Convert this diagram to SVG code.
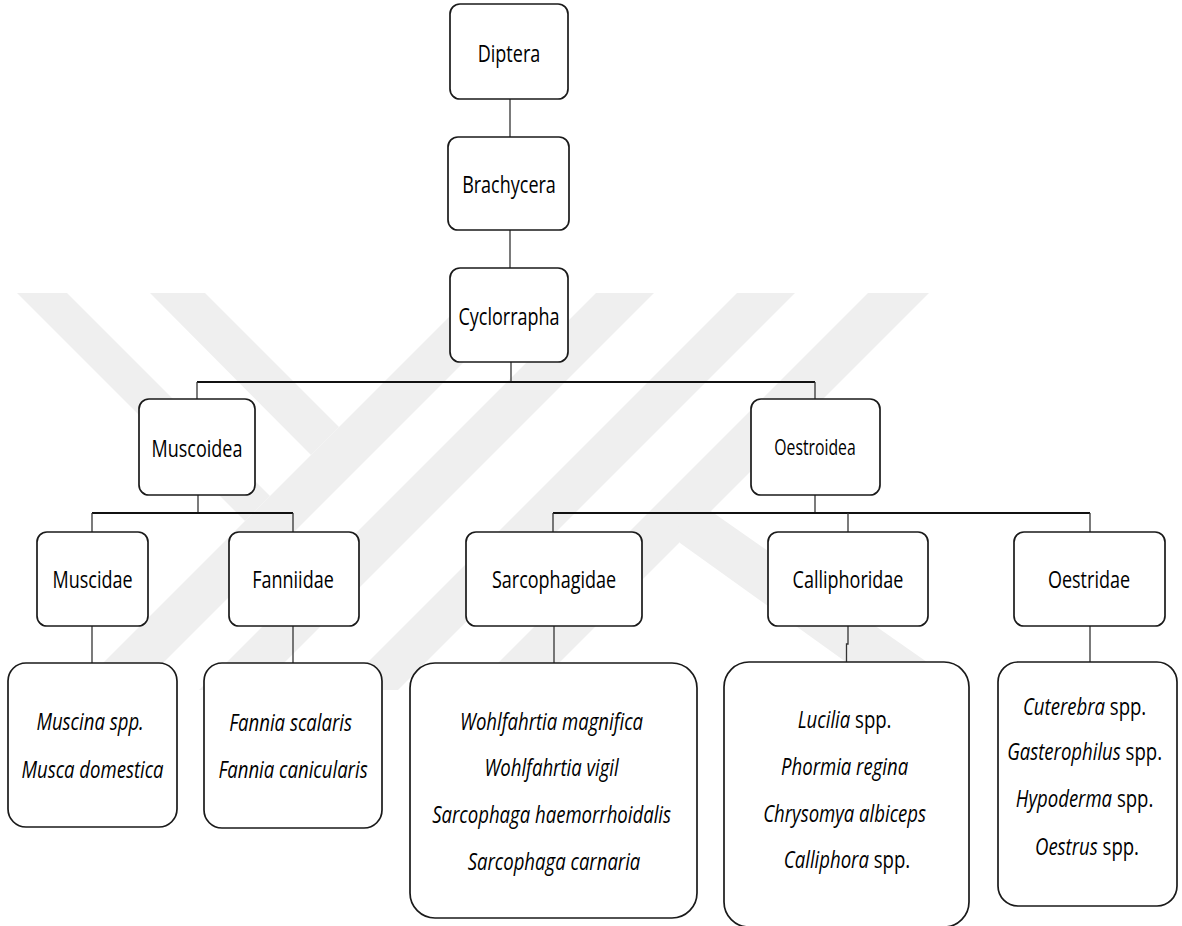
<svg xmlns="http://www.w3.org/2000/svg" width="1182" height="926" viewBox="0 0 1182 926">
  <style>
    .wm { fill: #efefef; stroke: none; }
    .box { fill: #ffffff; stroke: #1a1a1a; stroke-width: 1.7; }
    .v { fill: none; stroke: #333333; stroke-width: 1.3; }
    .h { fill: none; stroke: #111111; stroke-width: 2; }
    .lbl { font-family: "Open Sans", "Liberation Sans", Arial, sans-serif; font-size: 24px; fill: #000000; text-anchor: middle; }
    .sp { font-family: "Open Sans", "Liberation Sans", Arial, sans-serif; font-size: 23.5px; fill: #000000; text-anchor: middle; }
    .it { font-style: italic; }
  </style>
  <rect x="0" y="0" width="1182" height="926" fill="#ffffff"/>

  <g id="watermark">
    <polygon class="wm" points="17,293 67,293 270,496 245,521"/>
    <polygon class="wm" points="150,293 205,293 339,427 311,455"/>
    <polygon class="wm" points="473,293 533,293 136,690 76,690"/>
    <polygon class="wm" points="596,293 654,293 257,690 199,690"/>
    <polygon class="wm" points="737,293 795,293 398,690 340,690"/>
    <polygon class="wm" points="868,293 929,293 532,690 471,690"/>
    <polygon class="wm" points="675,486 967,690 885,690 680,543"/>
  </g>

  <g id="connectors">
    <path class="v" d="M510,99 V137"/>
    <path class="v" d="M510,230 V268"/>
    <path class="v" d="M511,362 V382"/>
    <path class="h" d="M197,382 H815"/>
    <path class="v" d="M197,382 V399"/>
    <path class="v" d="M815,382 V399"/>
    <path class="v" d="M198,495 V513"/>
    <path class="h" d="M92,513 H293"/>
    <path class="v" d="M92,513 V532"/>
    <path class="v" d="M293,513 V532"/>
    <path class="v" d="M815,495 V513"/>
    <path class="h" d="M553,513 H1090"/>
    <path class="v" d="M553,513 V532"/>
    <path class="v" d="M848,513 V532"/>
    <path class="v" d="M1090,513 V532"/>
    <path class="v" d="M92,626 V663"/>
    <path class="v" d="M293,626 V663"/>
    <path class="v" d="M554,626 V663"/>
    <path class="v" d="M848,626 V644 H846.5 V662"/>
    <path class="v" d="M1090,626 V662"/>
  </g>

  <g id="n-diptera">
    <rect class="box" x="450" y="4" width="118" height="95" rx="10"/>
    <text class="lbl" transform="translate(509 62) scale(0.75 1)">Diptera</text>
  </g>
  <g id="n-brachycera">
    <rect class="box" x="448" y="137" width="121" height="93" rx="10"/>
    <text class="lbl" transform="translate(509 193) scale(0.75 1)">Brachycera</text>
  </g>
  <g id="n-cyclorrapha">
    <rect class="box" x="450" y="268" width="118" height="94" rx="10"/>
    <text class="lbl" transform="translate(509 325) scale(0.75 1)">Cyclorrapha</text>
  </g>
  <g id="n-muscoidea">
    <rect class="box" x="139" y="399" width="116" height="96" rx="10"/>
    <text class="lbl" transform="translate(197 457) scale(0.75 1)">Muscoidea</text>
  </g>
  <g id="n-oestroidea">
    <rect class="box" x="751" y="399" width="129" height="96" rx="10"/>
    <text class="lbl" style="font-size:21px" transform="translate(815 455) scale(0.75 1)">Oestroidea</text>
  </g>
  <g id="n-muscidae">
    <rect class="box" x="37" y="532" width="111" height="94" rx="10"/>
    <text class="lbl" transform="translate(92.5 588) scale(0.75 1)">Muscidae</text>
  </g>
  <g id="n-fanniidae">
    <rect class="box" x="229" y="532" width="130" height="94" rx="10"/>
    <text class="lbl" transform="translate(293 588) scale(0.75 1)">Fanniidae</text>
  </g>
  <g id="n-sarcophagidae">
    <rect class="box" x="466" y="532" width="176" height="94" rx="10"/>
    <text class="lbl" transform="translate(554 588) scale(0.75 1)">Sarcophagidae</text>
  </g>
  <g id="n-calliphoridae">
    <rect class="box" x="768" y="532" width="160" height="94" rx="10"/>
    <text class="lbl" transform="translate(848 588) scale(0.75 1)">Calliphoridae</text>
  </g>
  <g id="n-oestridae">
    <rect class="box" x="1014" y="532" width="151" height="94" rx="10"/>
    <text class="lbl" transform="translate(1089 588) scale(0.75 1)">Oestridae</text>
  </g>

  <g id="s-muscidae">
    <rect class="box" x="8" y="663" width="169" height="164" rx="18"/>
    <text class="sp it" transform="translate(92.5 0) scale(0.79 1)">
      <tspan x="0" y="730">Muscina spp.</tspan>
      <tspan x="0" y="778">Musca domestica</tspan>
    </text>
  </g>
  <g id="s-fanniidae">
    <rect class="box" x="204" y="663" width="178" height="165" rx="18"/>
    <text class="sp it" transform="translate(293 0) scale(0.79 1)">
      <tspan x="0" y="731">Fannia scalaris</tspan>
      <tspan x="0" y="778">Fannia canicularis</tspan>
    </text>
  </g>
  <g id="s-sarcophagidae">
    <rect class="box" x="410" y="663" width="287" height="255" rx="25"/>
    <text class="sp it" transform="translate(554 0) scale(0.79 1)">
      <tspan x="0" y="730">Wohlfahrtia magnifica</tspan>
      <tspan x="0" y="776">Wohlfahrtia vigil</tspan>
      <tspan x="0" y="823">Sarcophaga haemorrhoidalis</tspan>
      <tspan x="0" y="870">Sarcophaga carnaria</tspan>
    </text>
  </g>
  <g id="s-calliphoridae">
    <rect class="box" x="724" y="662" width="245" height="265" rx="25"/>
    <text class="sp" transform="translate(847 0) scale(0.79 1)">
      <tspan x="0" y="728"><tspan class="it">Lucilia</tspan> spp.</tspan>
      <tspan x="0" y="775" class="it">Phormia regina</tspan>
      <tspan x="0" y="822" class="it">Chrysomya albiceps</tspan>
      <tspan x="0" y="868"><tspan class="it">Calliphora</tspan> spp.</tspan>
    </text>
  </g>
  <g id="s-oestridae">
    <rect class="box" x="998" y="662" width="179" height="244" rx="20"/>
    <text class="sp" transform="translate(1087 0) scale(0.79 1)">
      <tspan x="0" y="715"><tspan class="it">Cuterebra</tspan> spp.</tspan>
      <tspan x="0" y="760"><tspan class="it">Gasterophilus</tspan> spp.</tspan>
      <tspan x="0" y="807"><tspan class="it">Hypoderma</tspan> spp.</tspan>
      <tspan x="0" y="855"><tspan class="it">Oestrus</tspan> spp.</tspan>
    </text>
  </g>
</svg>
